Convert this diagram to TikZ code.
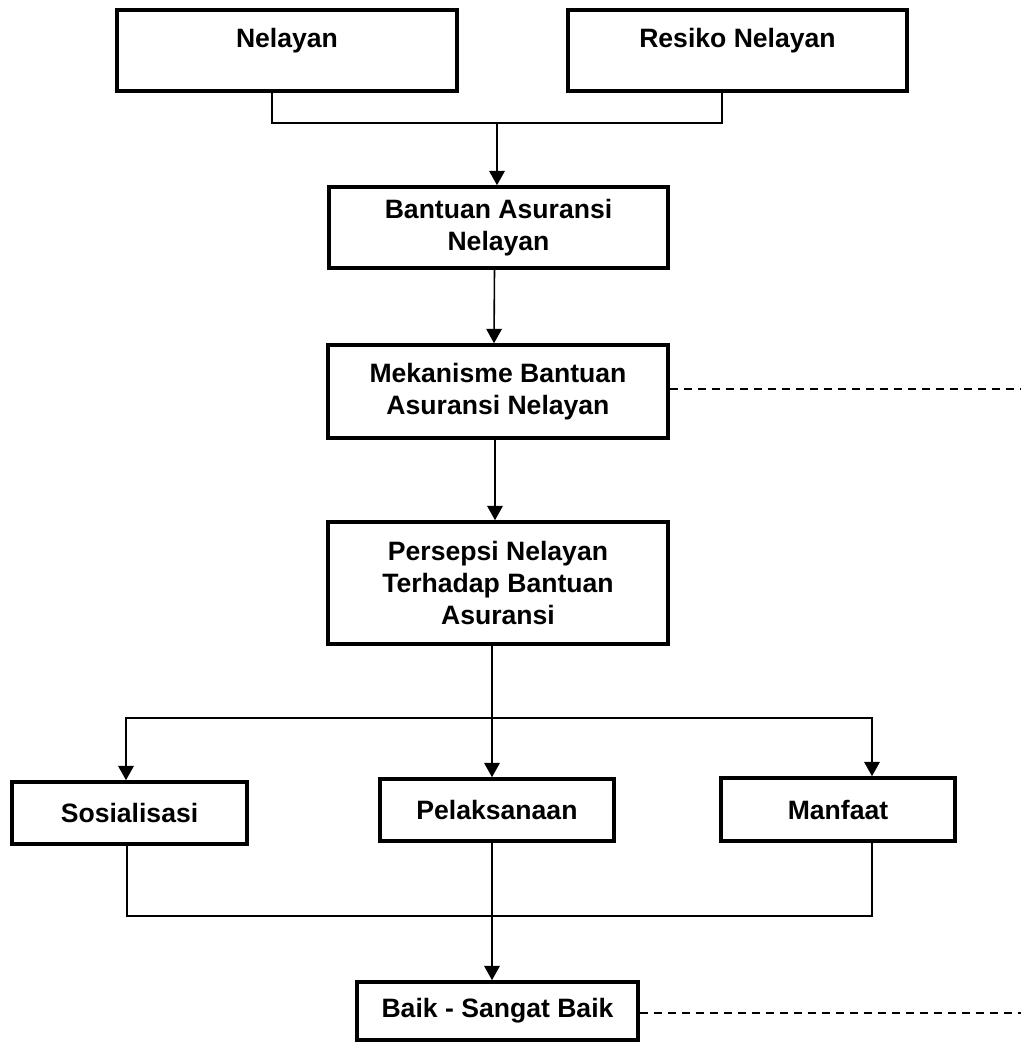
\documentclass[tikz,border=0pt]{standalone}
\usepackage{fontspec}
\setmainfont{Liberation Sans}
\usetikzlibrary{arrows.meta}
\newlength{\du}
\setlength{\du}{0.025cm}

\begin{document}
\begin{tikzpicture}[
  boxfont/.style={font=\bfseries\fontsize{18.9}{22.5}\selectfont},
  box/.style={draw=black, line width=3.6\du, fill=white, inner sep=0pt, align=center, boxfont},
  toptext/.style={anchor=north, inner sep=0pt, yshift=-20\du, boxfont},
  link/.style={draw=black, line width=1.6\du},
  arrow/.style={link, -{Triangle[width=0.39cm,length=0.36cm]}},
  dashlink/.style={draw=black, line width=2\du, dash pattern=on 8\du off 6\du}]
\useasboundingbox (0\du,0\du) rectangle (1021\du,-1042\du);
% boxes
\node[box, minimum width=340\du, minimum height=81\du,
  label={[toptext]north:Nelayan}] (nelayan) at (287\du,-50.5\du) {};
\node[box, minimum width=339\du, minimum height=81\du,
  label={[toptext]north:Resiko Nelayan}] (resiko) at (737.5\du,-50.5\du) {};
\node[box, minimum width=339\du, minimum height=81\du] (bantuan) at (498.5\du,-227.5\du)
  {Bantuan Asuransi\\Nelayan};
\node[box, minimum width=340\du, minimum height=93\du] (mekanisme) at (498\du,-391.5\du)
  {Mekanisme Bantuan\\Asuransi Nelayan};
\node[box, minimum width=340\du, minimum height=122\du] (persepsi) at (498\du,-583\du)
  {Persepsi Nelayan\\Terhadap Bantuan\\Asuransi};
\node[box, minimum width=235\du, minimum height=62\du] (sosialisasi) at (129.5\du,-813\du) {Sosialisasi};
\node[box, minimum width=234\du, minimum height=62\du] (pelaksanaan) at (497\du,-810\du) {Pelaksanaan};
\node[box, minimum width=234\du, minimum height=63\du] (manfaat) at (838\du,-809.5\du) {Manfaat};
\node[box, minimum width=281\du, minimum height=58\du] (baik) at (497.5\du,-1011\du) {Baik - Sangat Baik};
% junctions
\coordinate (jtop) at (497\du,-123\du);
\coordinate (jmid) at (492\du,-718\du);
\coordinate (jbot) at (492\du,-916\du);
\coordinate (rightedge) at (1021\du,0\du);
% connectors
\draw[link] ([xshift=-15\du]nelayan.south) |- (jtop) -| ([xshift=-15.5\du]resiko.south);
\draw[arrow] (jtop) -- (bantuan.north -| jtop);
\draw[arrow] ([xshift=-4\du]bantuan.south) -- ([xshift=-4\du]mekanisme.north);
\draw[arrow] ([xshift=-3\du]mekanisme.south) -- ([xshift=-3\du]persepsi.north);
\draw[link] (persepsi.south -| jmid) -- (jmid);
\draw[arrow] (jmid) -| ([xshift=-3.5\du]sosialisasi.north);
\draw[arrow] (jmid) -- (pelaksanaan.north -| jmid);
\draw[arrow] (jmid) -| ([xshift=34\du]manfaat.north);
\draw[link] ([xshift=-2.5\du]sosialisasi.south) |- (jbot) -| ([xshift=34\du]manfaat.south);
\draw[link] (pelaksanaan.south -| jbot) -- (jbot);
\draw[arrow] (jbot) -- (baik.north -| jbot);
\draw[dashlink] ([yshift=2.5\du]mekanisme.east) -- ([yshift=2.5\du]mekanisme.east -| rightedge);
\draw[dashlink] ([yshift=-2\du]baik.east) -- ([yshift=-2\du]baik.east -| rightedge);
\end{tikzpicture}
\end{document}
